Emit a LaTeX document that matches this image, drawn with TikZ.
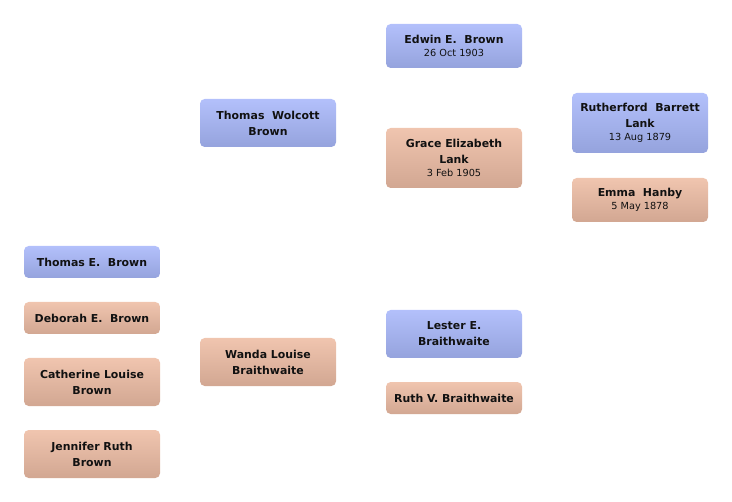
\documentclass[tikz,border=0pt]{standalone}
\usepackage{fontspec}
\setmainfont{DejaVu Sans}
\usepackage{tikz}
\usetikzlibrary{calc}

\definecolor{maletop}{HTML}{B3C0FB}
\definecolor{malebot}{HTML}{95A3DD}
\definecolor{femtop}{HTML}{F0C5AF}
\definecolor{fembot}{HTML}{D2A792}
\definecolor{nametext}{HTML}{111111}

\tikzset{
    person/.style={rounded corners=3.5pt, minimum width=102pt, align=center,
        text=nametext, font=\fontsize{8.2}{12}\selectfont\bfseries, inner sep=0pt},
    male/.style={person, top color=maletop, bottom color=malebot},
    female/.style={person, top color=femtop, bottom color=fembot},
}
\newcommand{\bdate}[1]{\\[-2pt]{\fontsize{7.3}{9}\selectfont\mdseries #1}}

\begin{document}
\begin{tikzpicture}[x=0.75pt, y=-0.75pt]
        \useasboundingbox (0, 0) rectangle (732, 502);

        \coordinate (edwinpos) at (454, 46);
        \coordinate (gracepos) at (454, 158);
        \coordinate (wolcottpos) at (268, 123);
        \coordinate (rutherpos) at (640, 123);
        \coordinate (emmapos) at (640, 200);
        \coordinate (thomaspos) at (92, 262);
        \coordinate (deborahpos) at (92, 318);
        \coordinate (catherinepos) at (92, 382);
        \coordinate (jenniferpos) at (92, 454);
        \coordinate (wandapos) at (268, 362);
        \coordinate (lesterpos) at (454, 334);
        \coordinate (ruthpos) at (454, 398);

        \node[male, minimum height=33pt] (edwin) at (edwinpos) {Edwin E.\ \ Brown\bdate{26 Oct 1903}};
        \node[female, minimum height=45pt] (grace) at (gracepos) {Grace Elizabeth\\Lank\bdate{3 Feb 1905}};
        \node[male, minimum height=36pt] (wolcott) at (wolcottpos) {Thomas\ \ Wolcott\\Brown};
        \node[male, minimum height=45pt] (rutherford) at (rutherpos) {Rutherford\ \ Barrett\\Lank\bdate{13 Aug 1879}};
        \node[female, minimum height=33pt] (emma) at (emmapos) {Emma\ \ Hanby\bdate{5 May 1878}};

        \node[male, minimum height=24pt] (thomas) at (thomaspos) {Thomas E.\ \ Brown};
        \node[female, minimum height=24pt] (deborah) at (deborahpos) {Deborah E.\ \ Brown};
        \node[female, minimum height=36pt] (catherine) at (catherinepos) {Catherine Louise\\Brown};
        \node[female, minimum height=36pt] (jennifer) at (jenniferpos) {Jennifer Ruth\\Brown};

        \node[female, minimum height=36pt] (wanda) at (wandapos) {Wanda Louise\\Braithwaite};
        \node[male, minimum height=36pt] (lester) at (lesterpos) {Lester E.\\Braithwaite};
        \node[female, minimum height=24pt] (ruth) at (ruthpos) {Ruth V. Braithwaite};

    \end{tikzpicture}
\end{document}
